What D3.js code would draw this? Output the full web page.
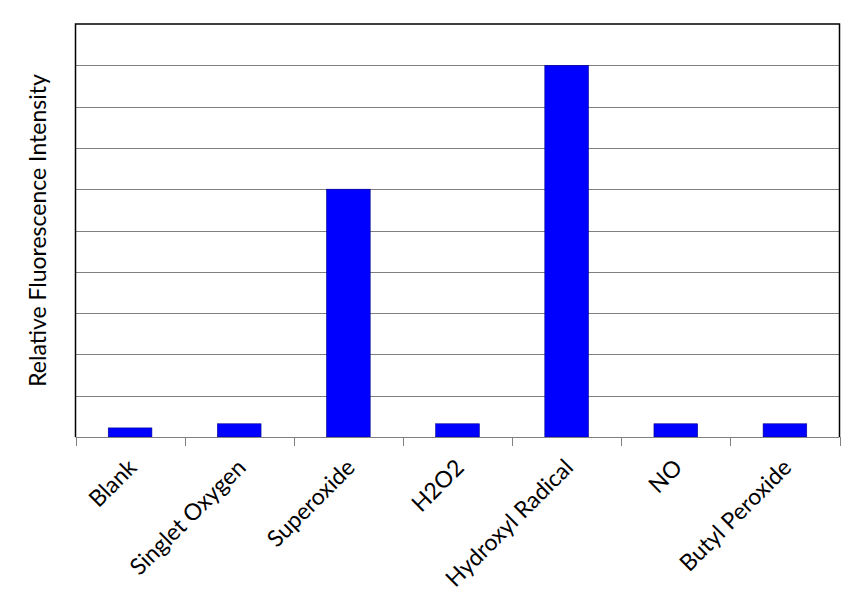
<!DOCTYPE html>
<html>
<head>
<meta charset="utf-8">
<script src="https://cdn.jsdelivr.net/npm/d3@7"></script>
<style>
  body { margin: 0; background: #fff; }
  svg { display: block; }
</style>
</head>
<body>
<svg id="chart" width="862" height="612"></svg>
<script>
const categories = ["Blank", "Singlet Oxygen", "Superoxide", "H2O2", "Hydroxyl Radical", "NO", "Butyl Peroxide"];
const values = [0.22, 0.32, 6.0, 0.32, 9.0, 0.32, 0.32];
const yTicks = [0, 1, 2, 3, 4, 5, 6, 7, 8, 9, 10];
const yLabel = "Relative Fluorescence Intensity";

const svg = d3.select("#chart");
const mLeft = 75.5, mRight = 839.5, mTop = 24, mBottom = 437;
const font = "Lato, 'Open Sans', sans-serif";

const x = d3.scaleBand().domain(categories).range([mLeft, mRight]).padding(0);
const y = d3.scaleLinear().domain([0, 10]).range([mBottom, mTop]);

// gridlines
svg.append("g").selectAll("line").data(yTicks.filter(d => d > 0 && d < 10)).join("line")
  .attr("x1", mLeft).attr("x2", mRight)
  .attr("y1", d => Math.round(y(d)) + 0.5).attr("y2", d => Math.round(y(d)) + 0.5)
  .attr("stroke", "#808080").attr("stroke-width", 1);

// bars
const bw = x.bandwidth() * 0.4;
svg.append("g").selectAll("rect").data(categories).join("rect")
  .attr("x", (d) => x(d) + (x.bandwidth() - bw) / 2)
  .attr("y", (d, i) => y(values[i]))
  .attr("width", bw)
  .attr("height", (d, i) => y(0) - y(values[i]))
  .attr("fill", "#0000ff")
  .attr("stroke", "#00008b").attr("stroke-width", 0.6);

// x axis with ticks at band boundaries
const xAxisG = svg.append("g");
xAxisG.append("line").attr("x1", mLeft).attr("x2", mRight)
  .attr("y1", mBottom + 0.5).attr("y2", mBottom + 0.5)
  .attr("stroke", "#808080").attr("stroke-width", 1.2);
const bounds = categories.map(d => x(d)).concat([mRight]);
xAxisG.selectAll("line.tick").data(bounds).join("line").attr("class", "tick")
  .attr("x1", d => Math.round(d) + 0.5).attr("x2", d => Math.round(d) + 0.5)
  .attr("y1", mBottom).attr("y2", mBottom + 9)
  .attr("stroke", "#808080").attr("stroke-width", 1);

// plot border (top, left, right)
svg.append("path")
  .attr("d", `M${mLeft},${mBottom}V${mTop}H${mRight}V${mBottom}`)
  .attr("fill", "none").attr("stroke", "#000").attr("stroke-width", 1.5);

// category labels
svg.append("g").selectAll("text").data(categories).join("text")
  .attr("transform", d => `translate(${x(d) + x.bandwidth() / 2 + 8},${mBottom + 32}) rotate(-45)`)
  .attr("text-anchor", "end")
  .attr("font-family", font)
  .attr("font-size", 23)
  .attr("fill", "#000")
  .text(d => d);

// y label
svg.append("text")
  .attr("transform", `translate(46,${(mTop + mBottom) / 2}) rotate(-90)`)
  .attr("text-anchor", "middle")
  .attr("font-family", font)
  .attr("font-size", 23)
  .attr("fill", "#000")
  .text(yLabel);
</script>
</body>
</html>
